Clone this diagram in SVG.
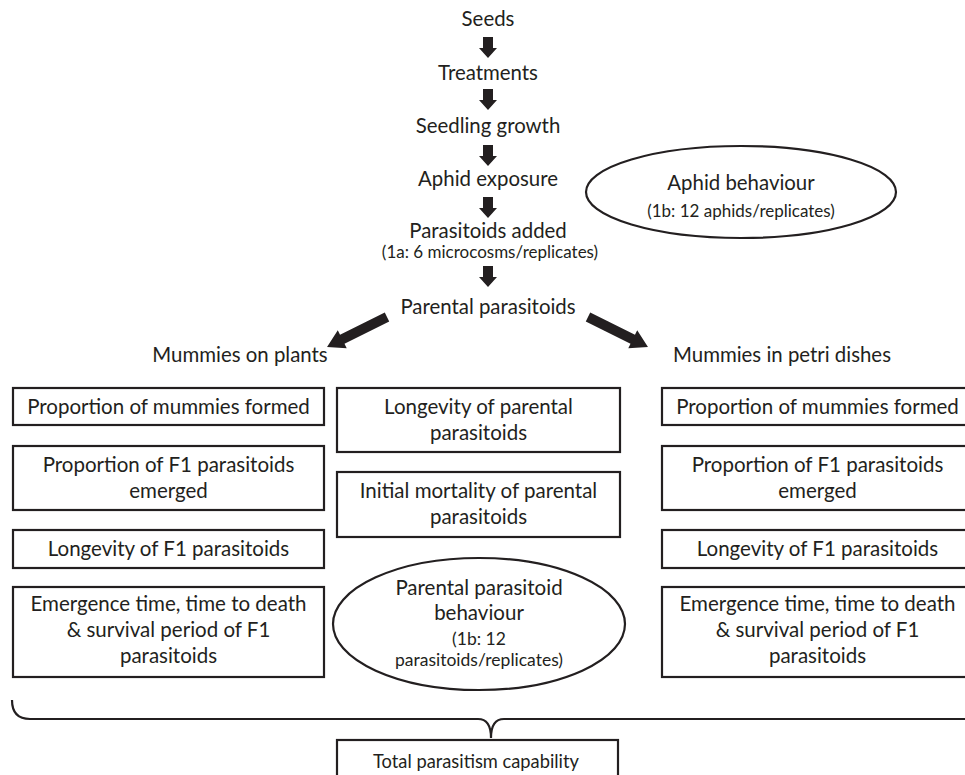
<svg xmlns="http://www.w3.org/2000/svg" width="965" height="775" viewBox="0 0 965 775">
<style>
text{font-family:Lato,"Open Sans","Liberation Sans",sans-serif;fill:#231f20;text-anchor:middle}
.t{font-size:20.4px}
.b{font-size:20.5px}
.s{font-size:17px}
.tot{font-size:18.3px}
.box{fill:#fff;stroke:#231f20;stroke-width:2.2}
.ell{fill:#fff;stroke:#231f20;stroke-width:2.2}
.arr{fill:#231f20}
</style>
<defs>
<path id="down" d="M-5,0 H5 V11 H9 L0,21 L-9,11 H-5 Z"/>
</defs>
<rect width="965" height="775" fill="#fff"/>
<g id="seeds"><text class="t" x="488" y="26">Seeds</text></g>
<g id="treatments"><text class="t" x="488" y="80">Treatments</text></g>
<g id="seedling"><text class="t" x="488" y="133">Seedling growth</text></g>
<g id="aphid-exposure"><text class="t" x="488" y="186">Aphid exposure</text></g>
<g id="parasitoids-added"><text class="t" x="488" y="238">Parasitoids added</text><text class="s" x="490" y="258">(1a: 6 microcosms/replicates)</text></g>
<g id="parental"><text class="t" x="488" y="314">Parental parasitoids</text></g>
<g id="aphid-behaviour"><ellipse class="ell" cx="741" cy="192" rx="155" ry="46"/><text class="t" x="741" y="190">Aphid behaviour</text><text class="s" x="741" y="217">(1b: 12 aphids/replicates)</text></g>
<g id="mummies-plants"><text class="t" x="240" y="362">Mummies on plants</text></g>
<g id="mummies-petri"><text class="t" x="782" y="362">Mummies in petri dishes</text></g>
<g id="connectors">
<use href="#down" class="arr" x="488" y="37"/>
<use href="#down" class="arr" x="488" y="89"/>
<use href="#down" class="arr" x="488" y="145"/>
<use href="#down" class="arr" x="488" y="197"/>
<use href="#down" class="arr" x="488" y="266"/>
<path class="arr" d="M0,-5 H50 V-10 L67,0 L50,10 V5 H0 Z" transform="translate(387,317) rotate(153.5)"/>
<path class="arr" d="M0,-5 H50 V-10 L67,0 L50,10 V5 H0 Z" transform="translate(588,317) rotate(26.5)"/>
<path d="M12,700 Q12,719 30,719 H478 Q491,719 491,738 Q491,719 504,719 H970" fill="none" stroke="#231f20" stroke-width="2.2"/>
</g>
<g id="l1"><rect class="box" x="13" y="388" width="311" height="37"/><text class="b" x="168.5" y="414">Proportion of mummies formed</text></g>
<g id="l2"><rect class="box" x="13" y="446" width="311" height="64"/><text class="b" x="168.5" y="472">Proportion of F1 parasitoids</text><text class="b" x="168.5" y="498">emerged</text></g>
<g id="l3"><rect class="box" x="13" y="530" width="311" height="38"/><text class="b" x="168.5" y="556">Longevity of F1 parasitoids</text></g>
<g id="l4"><rect class="box" x="13" y="587" width="311" height="90"/><text class="b" x="168.5" y="611">Emergence time, time to death</text><text class="b" x="168.5" y="637">&amp; survival period of F1</text><text class="b" x="168.5" y="663">parasitoids</text></g>
<g id="c1"><rect class="box" x="337" y="388" width="283" height="64"/><text class="b" x="478.5" y="414">Longevity of parental</text><text class="b" x="478.5" y="440">parasitoids</text></g>
<g id="c2"><rect class="box" x="337" y="472" width="283" height="65"/><text class="b" x="478.5" y="498">Initial mortality of parental</text><text class="b" x="478.5" y="524">parasitoids</text></g>
<g id="c3"><ellipse class="ell" cx="479" cy="624" rx="146" ry="66"/><text class="b" x="479" y="595">Parental parasitoid</text><text class="b" x="479" y="620">behaviour</text><text class="s" x="479" y="645" style="font-size:17.5px">(1b: 12</text><text class="s" x="479" y="666" style="font-size:17.5px">parasitoids/replicates)</text></g>
<g id="r1"><rect class="box" x="662" y="388" width="311" height="37"/><text class="b" x="817.5" y="414">Proportion of mummies formed</text></g>
<g id="r2"><rect class="box" x="662" y="446" width="311" height="64"/><text class="b" x="817.5" y="472">Proportion of F1 parasitoids</text><text class="b" x="817.5" y="498">emerged</text></g>
<g id="r3"><rect class="box" x="662" y="530" width="311" height="38"/><text class="b" x="817.5" y="556">Longevity of F1 parasitoids</text></g>
<g id="r4"><rect class="box" x="662" y="587" width="311" height="90"/><text class="b" x="817.5" y="611">Emergence time, time to death</text><text class="b" x="817.5" y="637">&amp; survival period of F1</text><text class="b" x="817.5" y="663">parasitoids</text></g>
<g id="total"><rect class="box" x="337" y="740" width="281" height="45"/><text class="tot" x="476" y="768">Total parasitism capability</text></g>
</svg>
